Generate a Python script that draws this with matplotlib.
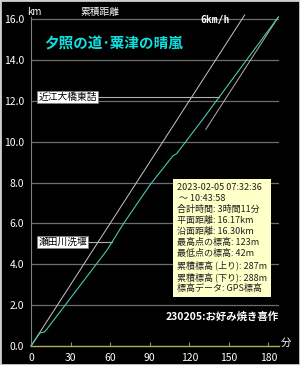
import numpy as np
import matplotlib
matplotlib.use('Agg')
import matplotlib.pyplot as plt
from matplotlib.patches import Rectangle

plt.rcParams['font.family'] = ['Noto Sans CJK JP', 'DejaVu Sans']

# 累積距離の推移 (分, km)
track_min = [0, 6.8, 9.9, 12.1, 57.7, 69.9, 90.4, 107.5, 110.5, 129.8, 187.5]
track_km = [0, 0.64, 0.68, 0.83, 4.70, 5.97, 7.90, 9.30, 9.42, 11.06, 16.10]

# 6km/h 基準線
pace_kmh = 6
pace_min = [0, 162]
back_min = [132.5, 187.5]

# 地点ラベル
spot_names = ['近江大橋東詰', '瀬田川洗堰']
spot_km = [12.18, 5.08]

xticks = [0, 30, 60, 90, 120, 150, 180]
yticks = [0, 2, 4, 6, 8, 10, 12, 14, 16]

info = ['2023-02-05 07:32:36',
        ' ～ 10:43:58',
        '合計時間: 3時間11分',
        '平面距離: 16.17km',
        '沿面距離: 16.30km',
        '最高点の標高: 123m',
        '最低点の標高: 42m',
        '累積標高 (上り): 287m',
        '累積標高 (下り): 288m',
        '標高データ: GPS標高']

fig = plt.figure(figsize=(3.0, 3.65), dpi=100, facecolor='black')
ax = fig.add_axes([31 / 300, 19 / 365, 248 / 300, 329 / 365])
ax.set_facecolor('black')
ax.set_xlim(0, 188)
ax.set_ylim(0, 16.1)

# グリッド
for y in yticks[1:]:
    ax.axhline(y, color='#6e6e6e', lw=0.9, zorder=1)

# 基準線
ax.plot(pace_min, [m * pace_kmh / 60 for m in pace_min], color='#c8c8c8', lw=0.7, clip_on=False, zorder=2)
end_km = track_km[-1]
ax.plot(back_min, [end_km - (back_min[1] - m) * pace_kmh / 60 for m in back_min],
        color='#b8b0b0', lw=0.7, clip_on=False, zorder=2)

# 軌跡
ax.plot(track_min, track_km, color='#48c8b0', lw=0.8, clip_on=False, zorder=3)

# 地点ラベル
for name, km in zip(spot_names, spot_km):
    t = np.interp(km, track_km, track_min)
    ax.plot([5, t], [km, km], color='#b0b0b0', lw=0.8, zorder=2)
    ax.text(5.5, km, name, fontsize=7, color='black', va='center', ha='left', zorder=5,
            bbox=dict(facecolor='white', edgecolor='#808080', pad=0.6, lw=0.5))

ax.text(151, 15.95, '6km/h', fontsize=7, color='white', fontweight='bold',
        family='DejaVu Sans Mono', ha='right', va='center')
ax.text(10, 14.8, '夕照の道･粟津の晴嵐', fontsize=10.5, color='#10e0e0', fontweight='bold',
        va='center', ha='left')
ax.text(188, 1.42, '230205:お好み焼き喜作', fontsize=7.5, color='white', fontweight='bold',
        ha='right', va='center')

# 情報ボックス
ax.text((177 - 31) / 248, 1 - (183 - 17) / 329, '\n'.join(info), transform=ax.transAxes,
        fontsize=6.5, color='#202020', va='top', ha='left', linespacing=1.28, zorder=6,
        bbox=dict(facecolor='#ffffc8', edgecolor='none', pad=3))

# 軸
for side in ['top', 'right']:
    ax.spines[side].set_visible(False)
ax.spines['left'].set_color('#808080')
ax.spines['bottom'].set_color('#b0b050')
ax.spines['bottom'].set_linewidth(1.0)
ax.set_xticks(xticks)
ax.set_yticks(yticks)
ax.set_yticklabels([f'{v:.1f}' for v in yticks])
ax.tick_params(axis='x', colors='#909090', direction='in', length=3, labelcolor='white',
               labelsize=7.5, pad=5)
ax.tick_params(axis='y', length=0, labelcolor='white', labelsize=7.5, pad=5)

fig.text(34 / 300, 1 - 12 / 365, 'km', color='white', fontsize=7, ha='center', va='center')
fig.text(100 / 300, 1 - 12 / 365, '累積距離', color='white', fontsize=7, ha='center', va='center')
fig.text(286 / 300, 1 - 343 / 365, '分', color='white', fontsize=7.5, ha='center', va='center')

fig.patches.append(Rectangle((0, 0), 1, 1, transform=fig.transFigure, fill=False,
                             edgecolor='#d0d0d0', lw=2))

fig.savefig('out.png', dpi=100, facecolor='black')
